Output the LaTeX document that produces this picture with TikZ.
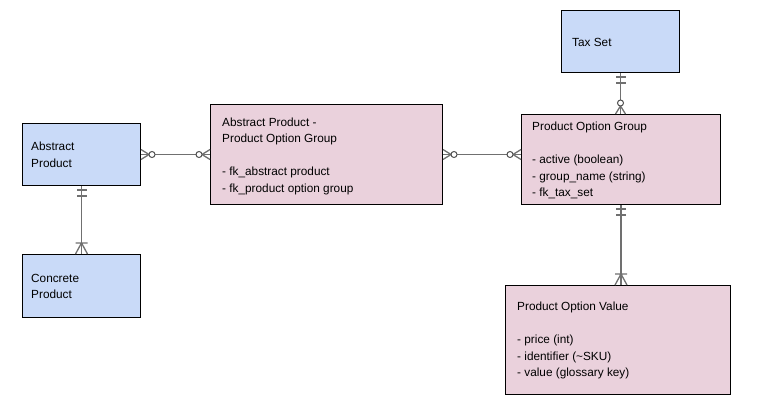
\documentclass[tikz,border=0pt]{standalone}
\usepackage{fontspec}
\setmainfont{Liberation Sans}
\definecolor{entblue}{HTML}{C9DAF8}
\definecolor{entpink}{HTML}{EAD1DC}
\definecolor{relgray}{HTML}{707070}
\tikzset{
  entity/.style={draw=black, line width=1pt, rectangle, anchor=north west, inner sep=0pt},
  enttext/.style={anchor=base west, align=left, inner sep=0pt,
    font=\fontsize{11.8}{16.5}\selectfont},
  rel/.style={draw=relgray, line width=1.6pt},
  % end marks, drawn with the entity at the origin and the line leaving along +x
  onlyone/.pic={\draw[rel, line width=1.3pt] (4,-5) -- (4,5) (10,-5) -- (10,5);},
  onemany/.pic={\draw[rel, line width=1.3pt] (0,-6) -- (11,0) -- (0,6) (11,-6) -- (11,6);},
  zeromany/.pic={\draw[rel, line width=1.3pt] (0,-5) -- (8,0) -- (0,5);
    \draw[relgray!70!black, line width=1pt, fill=white] (11,0) circle (3);},
}
\begin{document}
\begin{tikzpicture}[x=1pt, y=-1pt]
  \useasboundingbox (0,0) rectangle (759,415);
  % entities
  \node[entity, fill=entblue, minimum width=118pt, minimum height=62pt] (ap) at (22,123) {};
  \node[entity, fill=entblue, minimum width=118pt, minimum height=63pt] (cp) at (22,254) {};
  \node[entity, fill=entpink, minimum width=232pt, minimum height=100pt] (appog) at (210,104) {};
  \node[entity, fill=entblue, minimum width=118pt, minimum height=62pt] (tax) at (561,10) {};
  \node[entity, fill=entpink, minimum width=199pt, minimum height=90pt] (pog) at (521,114) {};
  \node[entity, fill=entpink, minimum width=225pt, minimum height=109pt] (pov) at (505,285) {};
  % texts (anchored at the baseline of the last line)
  \node[enttext] (aptext) at (31,167) {Abstract\\Product};
  \node[enttext] (cptext) at (31,298.5) {Concrete\\Product};
  \node[enttext] (appogtext) at (222,192) {Abstract Product -\\Product Option Group\\[16.5pt]- fk\_abstract product\\- fk\_product option group};
  \node[enttext] (taxtext) at (572,46.5) {Tax Set};
  \node[enttext] (pogtext) at (532,196.5) {Product Option Group\\[16.5pt]- active (boolean)\\- group\_name (string)\\- fk\_tax\_set};
  \node[enttext] (povtext) at (517,376.5) {Product Option Value\\[16.5pt]- price (int)\\- identifier (\textasciitilde SKU)\\- value (glossary key)};
  % relations
  \draw[rel] (ap.east) -- (appog.west);
  \draw[rel] (appog.east) -- (appog.east -| pog.west);
  \draw[rel] (tax.south) -- (tax.south |- pog.north);
  \draw[rel] (ap.south) -- (cp.north);
  \draw[rel] (pog.south) -- (pog.south |- pov.north);
  \pic at (ap.east) {zeromany};
  \pic[rotate=180] at (appog.west) {zeromany};
  \pic at (appog.east) {zeromany};
  \pic[rotate=180] at (appog.east -| pog.west) {zeromany};
  \pic[rotate=-90] at (tax.south) {onlyone};
  \pic[rotate=90] at (tax.south |- pog.north) {zeromany};
  \pic[rotate=-90] at (ap.south) {onlyone};
  \pic[rotate=90] at (cp.north) {onemany};
  \pic[rotate=-90] at (pog.south) {onlyone};
  \pic[rotate=90] at (pog.south |- pov.north) {onemany};
\end{tikzpicture}
\end{document}
